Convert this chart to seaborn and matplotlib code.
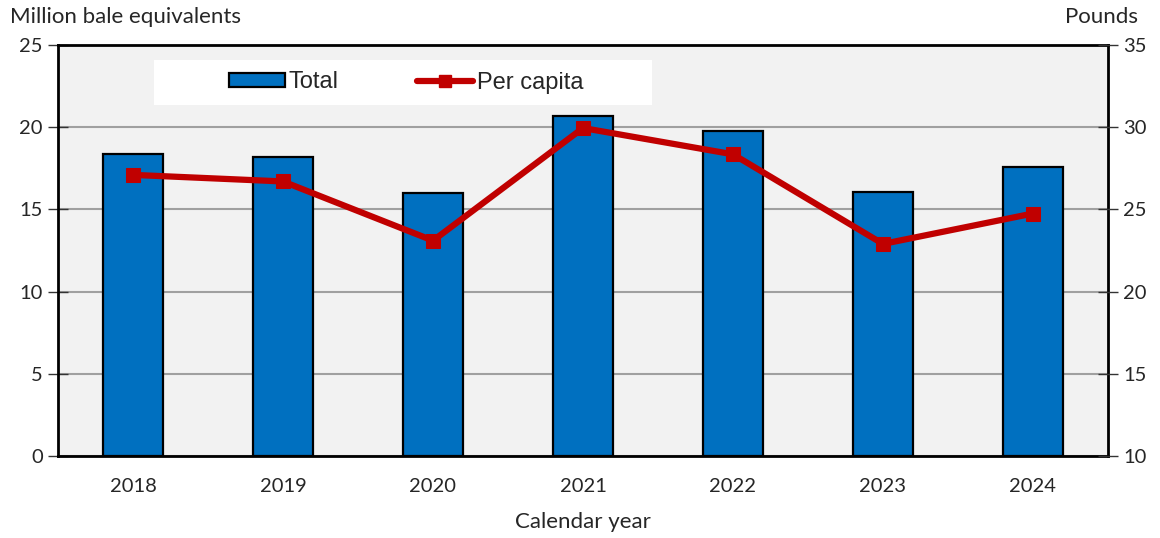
import numpy as np
import pandas as pd
import matplotlib
matplotlib.use('Agg')
import matplotlib.pyplot as plt
import seaborn as sns
from matplotlib.patches import Rectangle
from matplotlib.lines import Line2D
from matplotlib.ticker import FixedLocator, NullFormatter

# Data
years = ['2018', '2019', '2020', '2021', '2022', '2023', '2024']
total = [18.4, 18.2, 16.0, 20.7, 19.75, 16.05, 17.55]        # million bale equivalents
per_capita = [27.1, 26.7, 23.1, 29.95, 28.35, 22.9, 24.75]   # pounds

df = pd.DataFrame({'Year': years, 'Total': total, 'Per capita': per_capita})

sns.set_style('white')
plt.rcParams['font.family'] = ['Lato', 'DejaVu Sans']

fig = plt.figure(figsize=(11.6, 5.38), dpi=100)
ax = fig.add_axes([58 / 1160, 82 / 538, 1050 / 1160, 411 / 538])
ax.set_facecolor('#f2f2f2')

# Bars
sns.barplot(data=df, x='Year', y='Total', ax=ax, color='#0070C0', width=0.4,
            edgecolor='black', linewidth=1.6, saturation=1, zorder=3)
ax.set_xlim(-0.5, len(years) - 0.5)
ax.set_ylim(0, 25)
ax.set_yticks([0, 5, 10, 15, 20, 25])
ax.yaxis.grid(True, color='#a0a0a0', linewidth=1.5, zorder=0)
ax.set_axisbelow(True)

# Category boundary ticks, labels in the middle
ax.xaxis.set_major_locator(FixedLocator(np.arange(-0.5, len(years), 1.0)))
ax.xaxis.set_major_formatter(NullFormatter())
ax.xaxis.set_minor_locator(FixedLocator(np.arange(len(years))))
ax.set_xticklabels(years, minor=True)
ax.tick_params(axis='x', which='major', direction='inout', length=12, width=1, color='#333333')
ax.tick_params(axis='x', which='minor', length=0, labelsize=14.5, pad=16)
ax.tick_params(axis='y', direction='inout', length=14, width=1, color='#333333',
               labelsize=14.5, pad=4)
ax.set_xlabel('Calendar year', fontsize=16, labelpad=12)
ax.set_ylabel('')

for s in ax.spines.values():
    s.set_color('black')
    s.set_linewidth(2)

# Per capita line on secondary axis
ax2 = ax.twinx()
sns.lineplot(x=np.arange(len(years)), y=per_capita, ax=ax2, color='#C00000',
             linewidth=4.5, marker='s', markersize=10, markeredgecolor='#C00000', zorder=4)
ax2.set_ylim(10, 35)
ax2.set_yticks([10, 15, 20, 25, 30, 35])
ax2.tick_params(axis='y', direction='inout', length=14, width=1, color='#333333',
                labelsize=14.5, pad=4)
for s in ax2.spines.values():
    s.set_visible(False)

fig.text(10 / 1160, 1 - 17 / 538, 'Million bale equivalents', fontsize=16,
         ha='left', va='center')
fig.text(1138 / 1160, 1 - 17 / 538, 'Pounds', fontsize=16, ha='right', va='center')

# Legend on white box
ax2.add_patch(Rectangle((96 / 1050, 351 / 411), 498 / 1050, 45 / 411,
                        transform=ax2.transAxes, facecolor='white', edgecolor='none', zorder=5))
handles = [Rectangle((0, 0), 1, 1, facecolor='#0070C0', edgecolor='black', linewidth=1.6),
           Line2D([], [], color='#C00000', linewidth=4.5, marker='s', markersize=8)]
leg = ax2.legend(handles, ['Total', 'Per capita'], ncol=2, frameon=False,
                 loc='center', bbox_to_anchor=((96 + 252) / 1050, (351 + 22.5) / 411),
                 prop={'family': 'Liberation Sans', 'size': 17},
                 handlelength=2.4, handleheight=0.55, handletextpad=0.15, columnspacing=3.3)
leg.set_zorder(6)

fig.savefig('out.png', dpi=100)
